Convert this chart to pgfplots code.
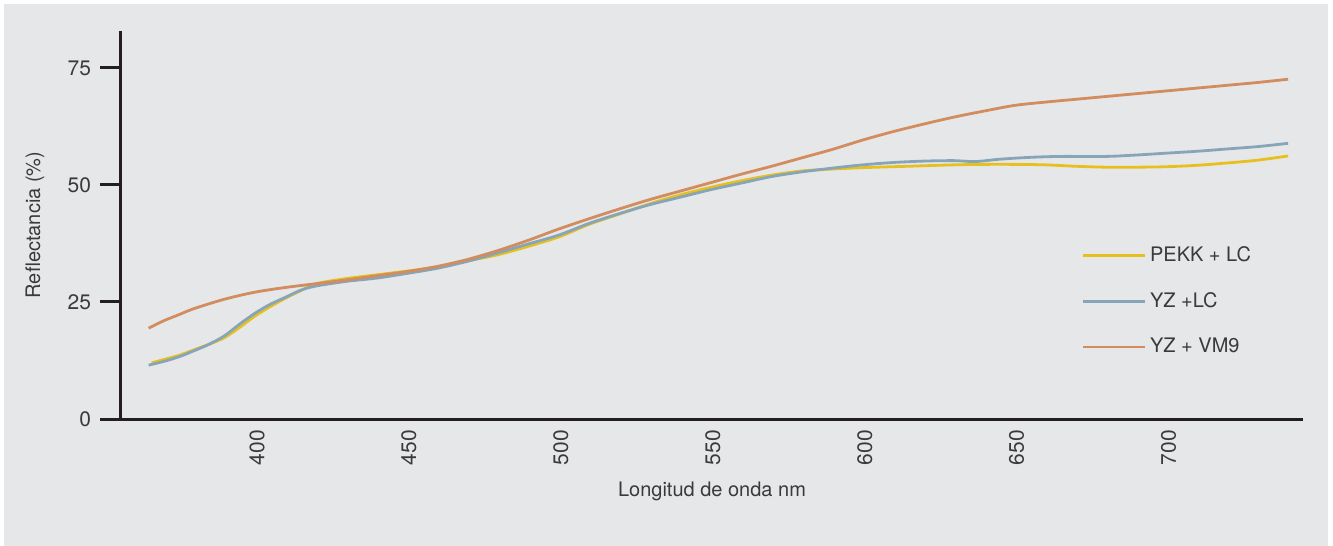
\documentclass[border=0pt]{standalone}
\usepackage{fontspec}
\setmainfont{TeX Gyre Heros}
\usepackage{pgfplots}
\pgfplotsset{compat=1.18}
\definecolor{bg}{HTML}{E6E7E9}
\definecolor{ax}{HTML}{231F20}
\definecolor{txt}{HTML}{3A3A3A}
\definecolor{cyel}{HTML}{E6C01E}
\definecolor{cblu}{HTML}{87A5B8}
\definecolor{corg}{HTML}{D28C5E}
\begin{document}
\begin{tikzpicture}
\fill[white] (-60.5pt,-63.5pt) rectangle (606pt,209.5pt);
\fill[bg] (-58.5pt,-63.5pt) rectangle (603.5pt,207.5pt);
\begin{axis}[
  scale only axis,
  width=591pt, height=194pt,
  xmin=355.9, xmax=744.9, ymin=0, ymax=82.9,
  axis lines=left,
  axis line style={-, line width=1.5pt, color=ax},
  xtick={400,450,500,550,600,650,700},
  ytick={0,25,50,75},
  extra x ticks={744.9},
  extra x tick labels={},
  extra x tick style={major tick length=9pt, tick align=outside, tick style={line width=1.5pt, color=ax}},
  x tick style={draw=none},
  y tick style={line width=1.5pt, color=ax},
  tick align=outside,
  major tick length=10.5pt,
  /pgf/number format/assume math mode=true,
  /pgf/number format/1000 sep={},
  xticklabel style={rotate=90, anchor=east, font=\fontsize{10.5}{12}\selectfont, text=txt, xshift=8.5pt, yshift=-1pt},
  yticklabel style={font=\fontsize{10.5}{12}\selectfont, text=txt, xshift=-1pt},
  every axis x label/.style={at={(axis description cs:0.5,-0.1856)}, anchor=center, font=\fontsize{10}{12}\selectfont, text=txt},
  every axis y label/.style={at={(axis description cs:-0.0728,0.5)}, anchor=center, rotate=90, font=\fontsize{10}{12}\selectfont, text=txt},
  xlabel={Longitud de onda nm},
  ylabel={Reflectancia (\%)},
  legend style={draw=none, fill=none, at={(axis description cs:0.807,0.304)}, anchor=west,
    font=\fontsize{10}{12}\selectfont, text=txt, row sep=10pt, legend cell align=left},
  legend image code/.code={\draw[#1, line width=1.4pt] (0pt,0pt) -- (31pt,0pt);},
]
\addplot[cyel, line width=1.4pt, smooth, tension=0.5] coordinates {
(366,12.0)(370,12.7)(375,13.6)(380,14.8)(385,16.0)(390,17.4)(395,19.6)(400,22.0)
(405,24.0)(410,25.8)(415,27.4)(420,28.9)(430,30.0)(440,30.8)(450,31.6)(460,32.5)
(470,33.8)(480,35.1)(490,36.9)(500,38.9)(510,41.6)(520,43.8)(530,46.0)(540,47.9)
(550,49.5)(560,50.9)(570,52.1)(580,53.0)(590,53.4)(600,53.7)(610,53.9)(620,54.1)
(630,54.3)(640,54.4)(650,54.4)(660,54.3)(670,54.0)(680,53.8)(690,53.8)(700,53.9)
(710,54.2)(720,54.7)(730,55.3)(740,56.2)};
\addlegendentry{PEKK + LC}
\addplot[cblu, line width=1.4pt, smooth, tension=0.5] coordinates {
(365,11.5)(370,12.3)(375,13.3)(380,14.6)(385,16.0)(390,17.8)(395,20.3)(400,22.6)
(405,24.5)(410,26.0)(415,27.5)(420,28.4)(430,29.4)(440,30.1)(450,31.1)(460,32.2)
(470,33.7)(480,35.5)(490,37.4)(500,39.3)(510,41.8)(520,43.9)(530,45.8)(540,47.4)
(550,49.0)(560,50.4)(570,51.8)(580,52.8)(590,53.6)(600,54.3)(610,54.8)(620,55.1)
(630,55.2)(637,55.0)(645,55.5)(655,55.9)(665,56.1)(680,56.1)(690,56.4)(700,56.8)
(710,57.2)(720,57.7)(730,58.2)(740,58.9)};
\addlegendentry{YZ +LC}
\addplot[corg, line width=1.4pt, smooth, tension=0.5] coordinates {
(365,19.4)(370,21.0)(375,22.3)(380,23.6)(390,25.6)(400,27.1)(410,28.1)(420,28.9)
(430,29.7)(440,30.6)(450,31.5)(460,32.6)(470,34.1)(480,36.0)(490,38.2)(500,40.6)
(510,42.8)(520,44.9)(530,46.9)(540,48.7)(550,50.5)(560,52.3)(570,54.0)(580,55.8)
(590,57.6)(600,59.6)(610,61.4)(620,63.0)(630,64.5)(640,65.8)(650,67.0)(660,67.7)
(670,68.3)(680,68.9)(690,69.5)(700,70.1)(710,70.7)(720,71.3)(730,71.9)(740,72.6)};
\addlegendentry{YZ + VM9}
\end{axis}
\end{tikzpicture}
\end{document}
